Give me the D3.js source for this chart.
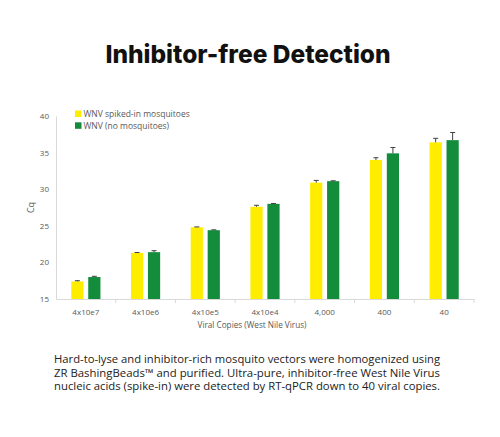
<!DOCTYPE html>
<html>
<head>
<meta charset="utf-8">
<script src="https://cdn.jsdelivr.net/npm/d3@7"></script>
<style>
  body { margin: 0; background: #fff; }
  svg { display: block; }
</style>
</head>
<body>
<div class="chart"></div>
<script>
// data
const categories = ["4x10e7", "4x10e6", "4x10e5", "4x10e4", "4,000", "400", "40"]
const seriesNames = ["WNV spiked-in mosquitoes", "WNV (no mosquitoes)"]
const spikedValues = [17.4, 21.3, 24.8, 27.6, 30.9, 34.0, 36.4]
const spikedErrors = [0.1, 0.05, 0.05, 0.2, 0.3, 0.3, 0.55]
const cleanValues = [18.0, 21.4, 24.4, 28.0, 31.1, 34.9, 36.7]
const cleanErrors = [0.1, 0.2, 0.05, 0.05, 0.05, 0.8, 1.05]
const yTicks = [15, 20, 25, 30, 35, 40]

const colors = ["#ffed00", "#138c3c"]

const width = 500
const height = 437
const margin = ({top: 116, right: 26, bottom: 138, left: 56})

const svg = d3.select(".chart").append("svg")
    .attr("width", width)
    .attr("height", height)
    .attr("viewBox", [0, 0, width, height])

let x = d3.scaleBand()
    .domain(categories)
    .range([margin.left, width - margin.right])

let y = d3.scaleLinear()
    .domain([15, 40])
    .range([height - margin.bottom, margin.top])

let x1 = d3.scaleBand()
    .domain([0, 1])
    .range([0, x.bandwidth()])
    .paddingInner(0.28)
    .paddingOuter(0.9)

// title
svg.append("text")
    .attr("x", width / 2 - 2)
    .attr("y", 63)
    .attr("text-anchor", "middle")
    .attr("font-family", "Inter, 'Open Sans', sans-serif")
    .attr("font-weight", 800)
    .attr("font-size", 24.5)
    .attr("fill", "#111")
    .text("Inhibitor-free Detection")

// axes
svg.append("g")
    .attr("transform", `translate(0,${y(15)})`)
    .call(d3.axisBottom(x).tickSize(0).tickPadding(10))
    .call(g => g.select(".domain").attr("stroke", "#d9d9d9"))
    .call(g => g.selectAll("text")
        .attr("font-family", "'Open Sans', sans-serif")
        .attr("font-size", 8)
        .attr("fill", "#595959"))

// small ticks between categories
svg.append("g")
    .attr("stroke", "#d9d9d9")
  .selectAll("line")
  .data(categories.slice(1).concat(["end"]))
  .join("line")
    .attr("x1", d => d === "end" ? x.range()[1] : x(d))
    .attr("x2", d => d === "end" ? x.range()[1] : x(d))
    .attr("y1", y(15))
    .attr("y2", y(15) + 4)

svg.append("g")
    .attr("transform", `translate(${margin.left},0)`)
    .call(d3.axisLeft(y).tickValues(yTicks).tickSize(0).tickPadding(7))
    .call(g => g.select(".domain").attr("stroke", "#d9d9d9"))
    .call(g => g.selectAll("text")
        .attr("font-family", "'Open Sans', sans-serif")
        .attr("font-size", 8)
        .attr("fill", "#595959"))

svg.append("text")
    .attr("text-anchor", "middle")
    .attr("transform", `translate(34,${y(27.5)})rotate(-90)`)
    .attr("font-family", "'Open Sans', sans-serif")
    .attr("font-size", 9)
    .attr("fill", "#595959")
    .text("Cq")

svg.append("text")
    .attr("text-anchor", "middle")
    .attr("x", 252)
    .attr("y", 328)
    .attr("font-family", "'Open Sans', sans-serif")
    .attr("font-size", 8.2)
    .attr("fill", "#595959")
    .text("Viral Copies (West Nile Virus)")

// bars
const rows = categories.map((c, i) => ({
  cat: c,
  vals: [
    {s: 0, v: spikedValues[i], e: spikedErrors[i]},
    {s: 1, v: cleanValues[i], e: cleanErrors[i]}
  ]
}))

const groups = svg.append("g")
  .selectAll("g")
  .data(rows)
  .join("g")
    .attr("transform", d => `translate(${x(d.cat)},0)`)

groups.selectAll("rect")
  .data(d => d.vals)
  .join("rect")
    .attr("x", d => x1(d.s))
    .attr("width", x1.bandwidth())
    .attr("y", d => y(d.v))
    .attr("height", d => y(15) - y(d.v))
    .attr("fill", d => colors[d.s])

// error bars (upper only)
const err = groups.selectAll("g.err")
  .data(d => d.vals)
  .join("g")
    .attr("class", "err")
    .attr("stroke", "#404040")
    .attr("stroke-width", 1)

err.append("line")
    .attr("x1", d => x1(d.s) + x1.bandwidth() / 2)
    .attr("x2", d => x1(d.s) + x1.bandwidth() / 2)
    .attr("y1", d => y(d.v))
    .attr("y2", d => y(d.v + d.e))

err.append("line")
    .attr("x1", d => x1(d.s) + x1.bandwidth() / 2 - 2.5)
    .attr("x2", d => x1(d.s) + x1.bandwidth() / 2 + 2.5)
    .attr("y1", d => y(d.v + d.e))
    .attr("y2", d => y(d.v + d.e))

// legend
const legend = svg.append("g")
  .selectAll("g")
  .data(seriesNames)
  .join("g")
    .attr("transform", (d, i) => `translate(75,${110.5 + i * 11.8})`)

legend.append("rect")
    .attr("width", 6.5)
    .attr("height", 6.5)
    .attr("fill", (d, i) => colors[i])

legend.append("text")
    .attr("x", 8.5)
    .attr("y", 6.4)
    .attr("font-family", "'Open Sans', sans-serif")
    .attr("font-size", 8.5)
    .attr("fill", "#595959")
    .text(d => d)

// caption
const caption = [
  "Hard-to-lyse and inhibitor-rich mosquito vectors were homogenized using",
  "ZR BashingBeads\u2122 and purified. Ultra-pure, inhibitor-free West Nile Virus",
  "nucleic acids (spike-in) were detected by RT-qPCR down to 40 viral copies."
]

svg.append("g")
  .selectAll("text")
  .data(caption)
  .join("text")
    .attr("x", 54)
    .attr("y", (d, i) => 363 + i * 13.7)
    .attr("font-family", "'Open Sans', sans-serif")
    .attr("font-size", 11)
    .attr("fill", "#222")
    .attr("textLength", 386)
    .attr("lengthAdjust", "spacingAndGlyphs")
    .text(d => d)

svg.node();
</script>
</body>
</html>
